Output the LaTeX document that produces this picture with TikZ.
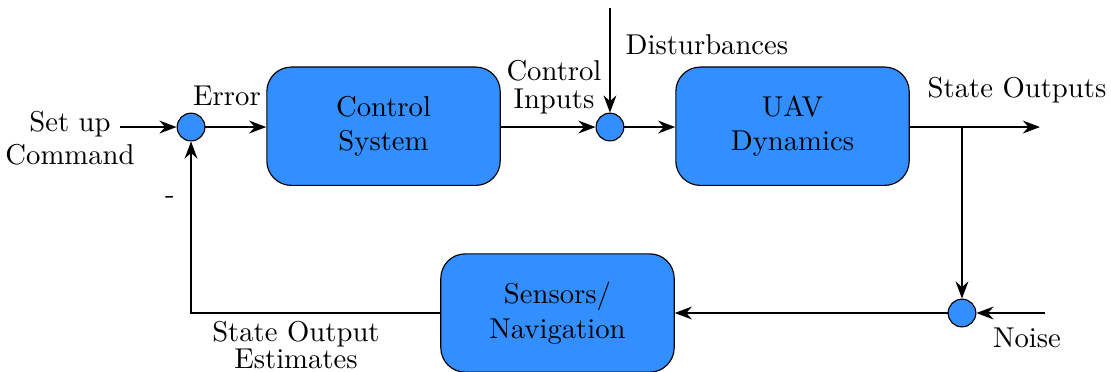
\documentclass[tikz,border=0pt]{standalone}
\usetikzlibrary{arrows.meta}
\definecolor{blockblue}{RGB}{51,143,255}
\tikzset{
  block/.style={draw,fill=blockblue,rounded corners=0.3cm,minimum width=2.86cm,minimum height=1.45cm,align=center},
  sum/.style={draw,circle,fill=blockblue,minimum size=0.34cm,inner sep=0pt},
  sig/.style={-{Stealth[length=6pt,width=4.5pt,inset=2pt]}}
}
\begin{document}
\begin{tikzpicture}
\useasboundingbox (0,0) rectangle (13.615,4.547);
%\draw[step=0.5cm,gray,very thin] (0,0) grid (13.5,4.5);
\node[sum] (sum1) at (2.341,2.99) {};
\node[block] (ctrl) at (4.700,3.0) {Control\\System};
\node[sum] (sum2) at (7.475,2.99) {};
\node[block] (uav) at (9.712,3.0) {UAV\\Dynamics};
\node[sum] (sum3) at (11.789,0.711) {};
\node[block] (sens) at (6.832,0.711) {Sensors/\\Navigation};
\coordinate (cmd) at (1.471,2.99);
\coordinate (dist) at (7.475,4.449);
\coordinate (branch) at (11.789,2.99);
\coordinate (out) at (12.745,2.99);
\coordinate (noise) at (12.806,0.711);
\draw [sig] (cmd) -- (sum1);
\draw [sig] (sum1) -- (sum1 -| ctrl.west);
\draw [sig] (ctrl.east |- sum2) -- (sum2);
\draw [sig] (dist) -- (sum2);
\draw [sig] (sum2) -- (sum2 -| uav.west);
\draw [sig] (uav.east |- out) -- (out);
\draw [sig] (branch) -- (sum3);
\draw [sig] (noise) -- (sum3);
\draw [sig] (sum3) -- (sens);
\draw [sig] (sens.west) -| (sum1);
\node[align=center] at (0.858,2.85) {Set up\\[-0.5pt]Command};
\node[] at (2.782,3.370) {Error};
\node[align=center] at (6.789,3.480) {Control\\[-2pt]Inputs};
\node[] at (8.664,3.995) {Disturbances};
\node[] at (12.463,3.444) {State Outputs};
\node[] at (12.586,0.404) {Noise};
\node[] at (2.083,2.096) {-};
\node[align=center] at (3.627,0.319) {State Output\\[-2.5pt]Estimates};
\end{tikzpicture}
\end{document}
